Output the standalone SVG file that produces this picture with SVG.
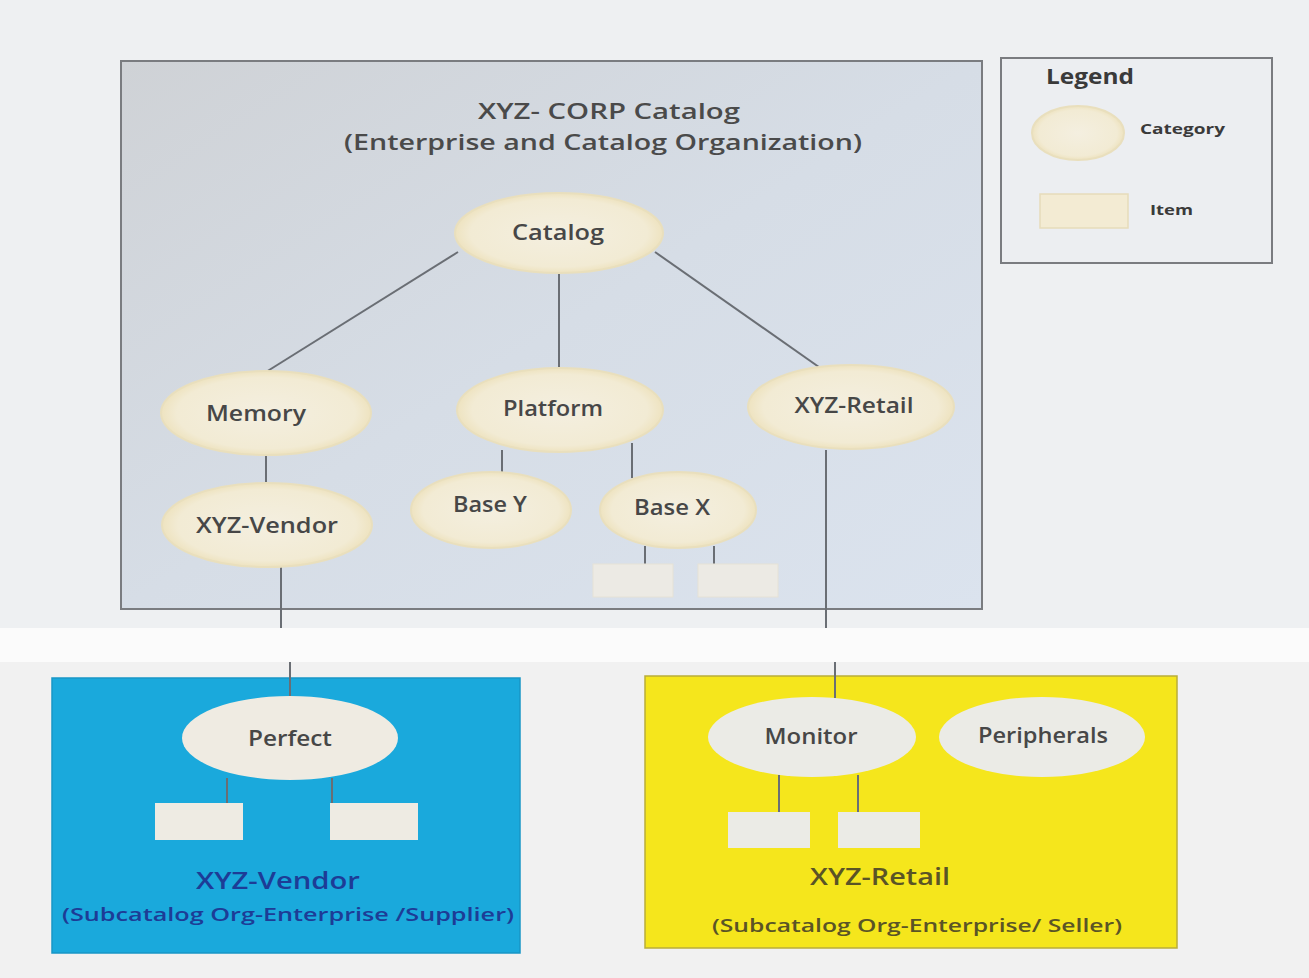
<svg xmlns="http://www.w3.org/2000/svg" width="1309" height="978" viewBox="0 0 1309 978">
<defs>
<linearGradient id="mainbg" x1="0" y1="0" x2="1" y2="1">
<stop offset="0" stop-color="#cfd2d6"/>
<stop offset="0.5" stop-color="#d6dde6"/>
<stop offset="1" stop-color="#dbe3ee"/>
</linearGradient>
<radialGradient id="cream" cx="0.5" cy="0.5" r="0.5">
<stop offset="0" stop-color="#f4efe0"/>
<stop offset="0.85" stop-color="#f2ebd4"/>
<stop offset="1" stop-color="#eee3c0"/>
</radialGradient>
<style>
.bg{fill:#eef0f2}
.box{stroke:#7a7c80;stroke-width:2}
.cat{fill:url(#cream);stroke:#e9dfbd;stroke-width:2}
.lbl{font-family:"Open Sans","Liberation Sans",sans-serif;font-weight:600;font-size:21px;fill:#474747;text-anchor:middle}
.conn line{stroke:#6a6e74;stroke-width:2}
.title{font-family:"Open Sans","Liberation Sans",sans-serif;font-weight:600;font-size:22px;fill:#4a4a4a;text-anchor:middle}
.leg{font-family:"Open Sans","Liberation Sans",sans-serif;font-weight:700;fill:#3a3a3a}
.sub{font-family:"Open Sans","Liberation Sans",sans-serif;font-weight:600;text-anchor:middle}
</style>
</defs>
<rect class="bg" x="0" y="0" width="1309" height="978"/>
<rect x="0" y="628" width="1309" height="34" fill="#fbfbfb"/>
<rect x="0" y="662" width="1309" height="316" fill="#f1f1f1"/>

<g id="main-catalog">
<rect class="box" x="121" y="61" width="861" height="548" fill="url(#mainbg)"/>
<text class="title" x="609" y="119" textLength="262" lengthAdjust="spacingAndGlyphs">XYZ- CORP Catalog</text>
<text class="title" x="603" y="150" textLength="518" lengthAdjust="spacingAndGlyphs">(Enterprise and Catalog Organization)</text>
</g>

<g id="legend">
<rect class="box" x="1001" y="58" width="271" height="205" fill="#eceef1"/>
<text class="leg" x="1046" y="84" font-size="21" textLength="88" lengthAdjust="spacingAndGlyphs">Legend</text>
<ellipse class="cat" cx="1078" cy="133" rx="46" ry="27"/>
<text class="leg" x="1140" y="134" font-size="15" textLength="85" lengthAdjust="spacingAndGlyphs">Category</text>
<rect x="1040" y="194" width="88" height="34" fill="#f3ebd3" stroke="#e6dcba" stroke-width="1.5"/>
<text class="leg" x="1150" y="215" font-size="15" textLength="43" lengthAdjust="spacingAndGlyphs">Item</text>
</g>

<g id="vendor-subcatalog">
<rect x="52" y="678" width="468" height="275" fill="#1aa9dc" stroke="#1896c6" stroke-width="1.5"/>
<text class="sub" x="278" y="889" font-size="24" fill="#1d3c96" textLength="164" lengthAdjust="spacingAndGlyphs">XYZ-Vendor</text>
<text class="sub" x="288" y="921" font-size="18" fill="#1d3c96" textLength="452" lengthAdjust="spacingAndGlyphs">(Subcatalog  Org-Enterprise /Supplier)</text>
</g>

<g id="retail-subcatalog">
<rect x="645" y="676" width="532" height="272" fill="#f5e61c" stroke="#b9ad3a" stroke-width="1.5"/>
<text class="sub" x="880" y="885" font-size="24" fill="#5a5426" textLength="140" lengthAdjust="spacingAndGlyphs">XYZ-Retail</text>
<text class="sub" x="917" y="932" font-size="18" fill="#5a5426" textLength="410" lengthAdjust="spacingAndGlyphs">(Subcatalog Org-Enterprise/ Seller)</text>
</g>

<g id="connectors" class="conn">
<line x1="458" y1="252" x2="266" y2="372"/>
<line x1="559" y1="273" x2="559" y2="370"/>
<line x1="655" y1="252" x2="826" y2="372"/>
<line x1="266" y1="455" x2="266" y2="485"/>
<line x1="502" y1="450" x2="502" y2="478"/>
<line x1="632" y1="443" x2="632" y2="478"/>
<line x1="645" y1="546" x2="645" y2="564"/>
<line x1="714" y1="546" x2="714" y2="564"/>
<line x1="281" y1="567" x2="281" y2="628"/>
<line x1="826" y1="450" x2="826" y2="628"/>
<line x1="290" y1="662" x2="290" y2="698"/>
<line x1="835" y1="662" x2="835" y2="698"/>
<line x1="227" y1="778" x2="227" y2="803"/>
<line x1="332" y1="778" x2="332" y2="803"/>
<line x1="779" y1="775" x2="779" y2="812"/>
<line x1="858" y1="775" x2="858" y2="812"/>
</g>

<g id="catalog"><ellipse class="cat" cx="559" cy="233" rx="104" ry="40"/><text class="lbl" x="558" y="240" textLength="92" lengthAdjust="spacingAndGlyphs">Catalog</text></g>
<g id="memory"><ellipse class="cat" cx="266" cy="413" rx="105" ry="42"/><text class="lbl" x="256" y="421" textLength="100" lengthAdjust="spacingAndGlyphs">Memory</text></g>
<g id="platform"><ellipse class="cat" cx="560" cy="410" rx="103" ry="42"/><text class="lbl" x="553" y="416" textLength="100" lengthAdjust="spacingAndGlyphs">Platform</text></g>
<g id="xyz-retail"><ellipse class="cat" cx="851" cy="407" rx="103" ry="42"/><text class="lbl" x="854" y="413" textLength="119" lengthAdjust="spacingAndGlyphs">XYZ-Retail</text></g>
<g id="xyz-vendor"><ellipse class="cat" cx="267" cy="525" rx="105" ry="42"/><text class="lbl" x="267" y="533" textLength="142" lengthAdjust="spacingAndGlyphs">XYZ-Vendor</text></g>
<g id="base-y"><ellipse class="cat" cx="491" cy="510" rx="80" ry="38"/><text class="lbl" x="490" y="512" textLength="74" lengthAdjust="spacingAndGlyphs">Base Y</text></g>
<g id="base-x"><ellipse class="cat" cx="678" cy="510" rx="78" ry="38"/><text class="lbl" x="672" y="515" textLength="76" lengthAdjust="spacingAndGlyphs">Base X</text></g>
<g id="basex-item1"><rect x="593" y="564" width="80" height="33" fill="#eceae4" stroke="#e6e2d6" stroke-width="1"/></g>
<g id="basex-item2"><rect x="698" y="564" width="80" height="33" fill="#eceae4" stroke="#e6e2d6" stroke-width="1"/></g>

<g id="perfect"><ellipse cx="290" cy="738" rx="108" ry="42" fill="#efebe2"/><text class="lbl" x="290" y="746" textLength="84" lengthAdjust="spacingAndGlyphs">Perfect</text></g>
<g id="perfect-item1"><rect x="155" y="803" width="88" height="37" fill="#eeebe3"/></g>
<g id="perfect-item2"><rect x="330" y="803" width="88" height="37" fill="#eeebe3"/></g>

<g id="monitor"><ellipse cx="812" cy="737" rx="104" ry="40" fill="#ebebe6"/><text class="lbl" x="811" y="744" textLength="93" lengthAdjust="spacingAndGlyphs">Monitor</text></g>
<g id="peripherals"><ellipse cx="1042" cy="737" rx="103" ry="40" fill="#ebebe6"/><text class="lbl" x="1043" y="743" textLength="130" lengthAdjust="spacingAndGlyphs">Peripherals</text></g>
<g id="monitor-item1"><rect x="728" y="812" width="82" height="36" fill="#ebebe6"/></g>
<g id="monitor-item2"><rect x="838" y="812" width="82" height="36" fill="#ebebe6"/></g>
</svg>
